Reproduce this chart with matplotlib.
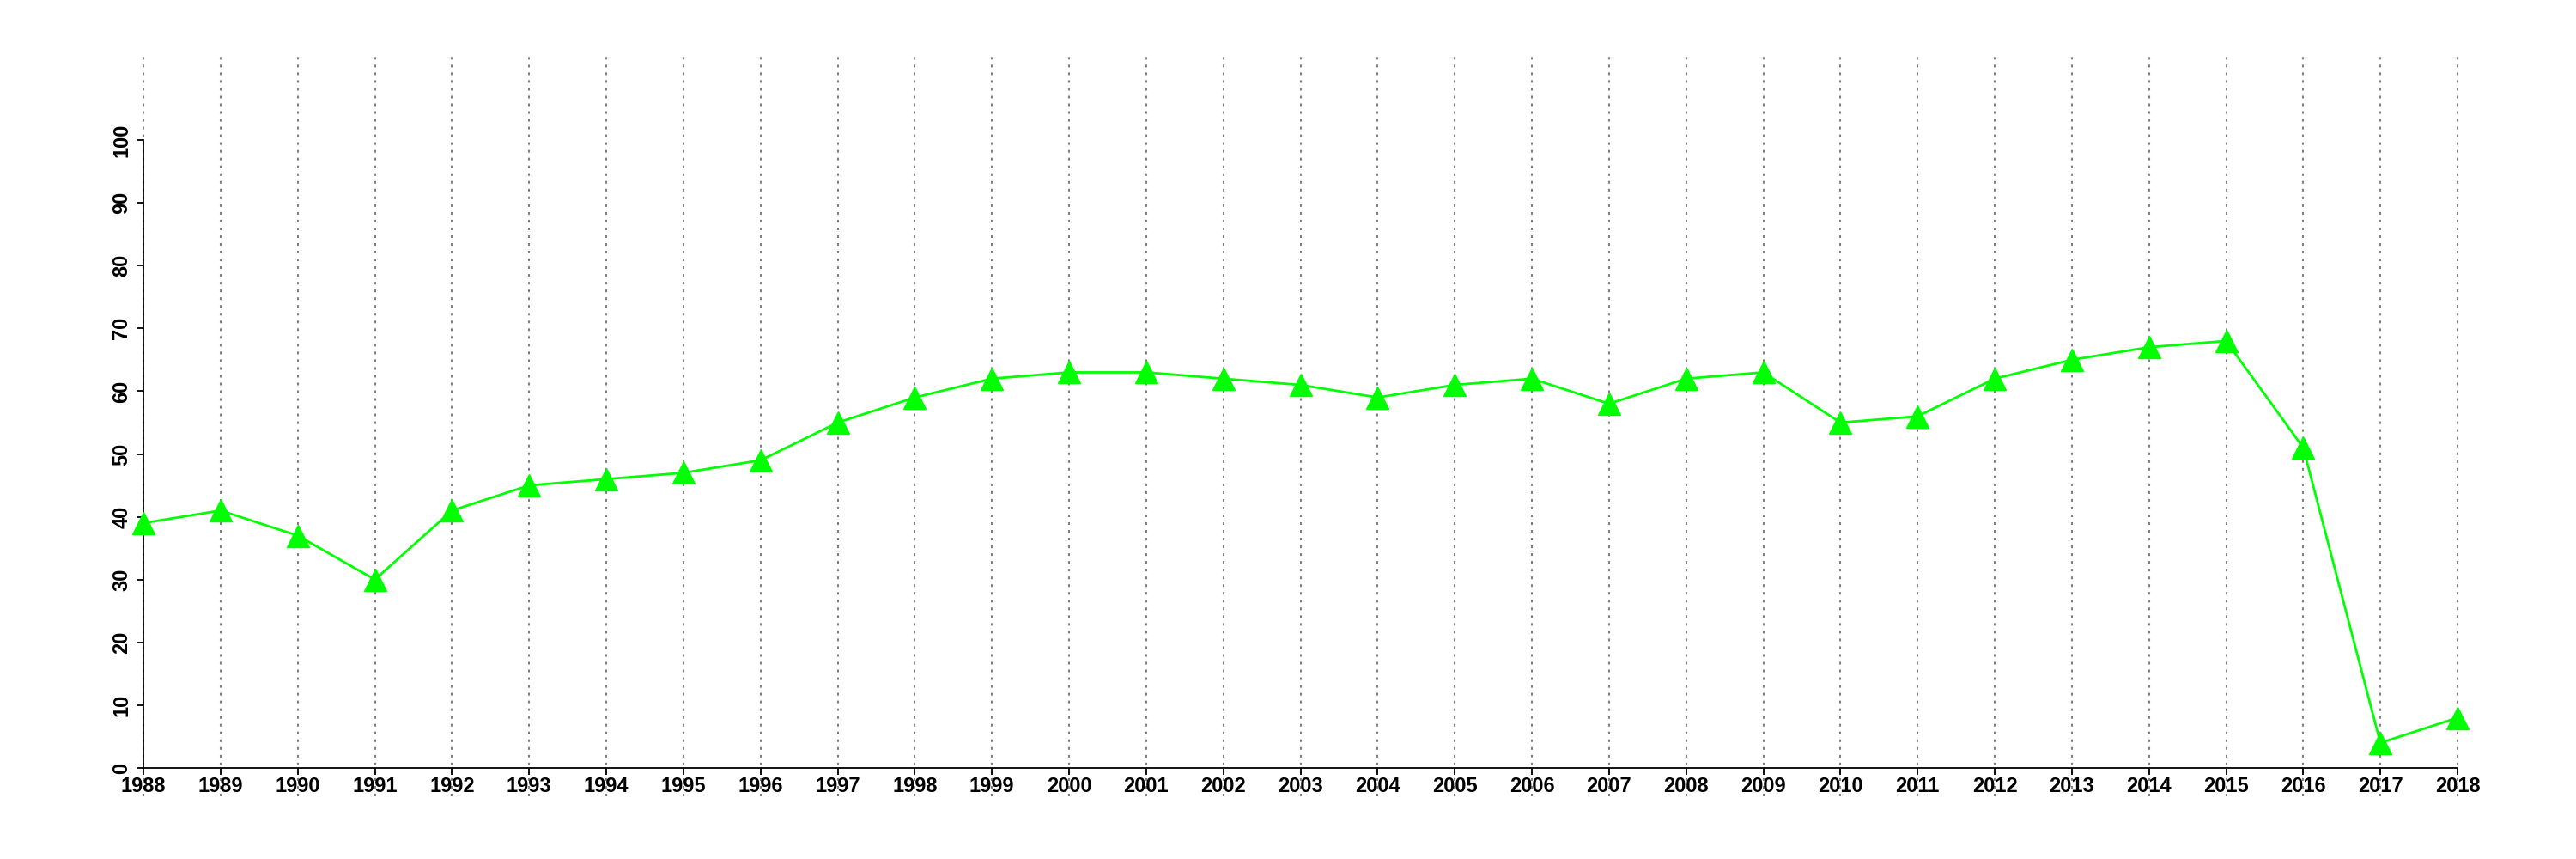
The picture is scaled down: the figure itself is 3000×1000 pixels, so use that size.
import numpy as np
import matplotlib
matplotlib.use("Agg")
import matplotlib.pyplot as plt

years = list(range(1988, 2019))
values = [39, 41, 37, 30, 41, 45, 46, 47, 49, 55, 59, 62, 63, 63, 62, 61,
          59, 61, 62, 58, 62, 63, 55, 56, 62, 65, 67, 68, 51, 4, 8]
y_ticks = list(range(0, 101, 10))

plt.rcParams['font.family'] = ['Liberation Sans', 'DejaVu Sans']
plt.rcParams['lines.scale_dashes'] = False

fig = plt.figure(figsize=(30, 10), dpi=100)
ax = fig.add_axes([0.0557, 0.106, 0.954 - 0.0557, 0.837 - 0.106])

# dotted vertical guides running past the axes (top of figure down through the labels)
ax.vlines(years, -4.5, 114, colors='#808080', linestyles=(0, (2.2, 4.3)),
          linewidth=1.5, clip_on=False, zorder=1)

ax.plot(years, values, color='#00ff00', linewidth=2.0, marker='^',
        markersize=19, markerfacecolor='#00ff00', markeredgecolor='#00ff00',
        clip_on=False, zorder=3)

ax.set_xlim(1988, 2018)
ax.set_ylim(0, 100)
ax.set_xticks(years)
ax.set_xticklabels([str(y) for y in years])
ax.set_yticks(y_ticks)
ax.set_yticklabels([str(v) for v in y_ticks], rotation=90, va='center')

for side in ['top', 'right']:
    ax.spines[side].set_visible(False)
for side in ['left', 'bottom']:
    ax.spines[side].set_linewidth(1.3)

ax.tick_params(axis='both', direction='out', length=6, width=1.3,
               labelsize=17)
ax.tick_params(axis='x', pad=1)
ax.tick_params(axis='y', pad=4)
for lab in ax.get_xticklabels() + ax.get_yticklabels():
    lab.set_fontweight('bold')

fig.savefig('out.png', dpi=100)
